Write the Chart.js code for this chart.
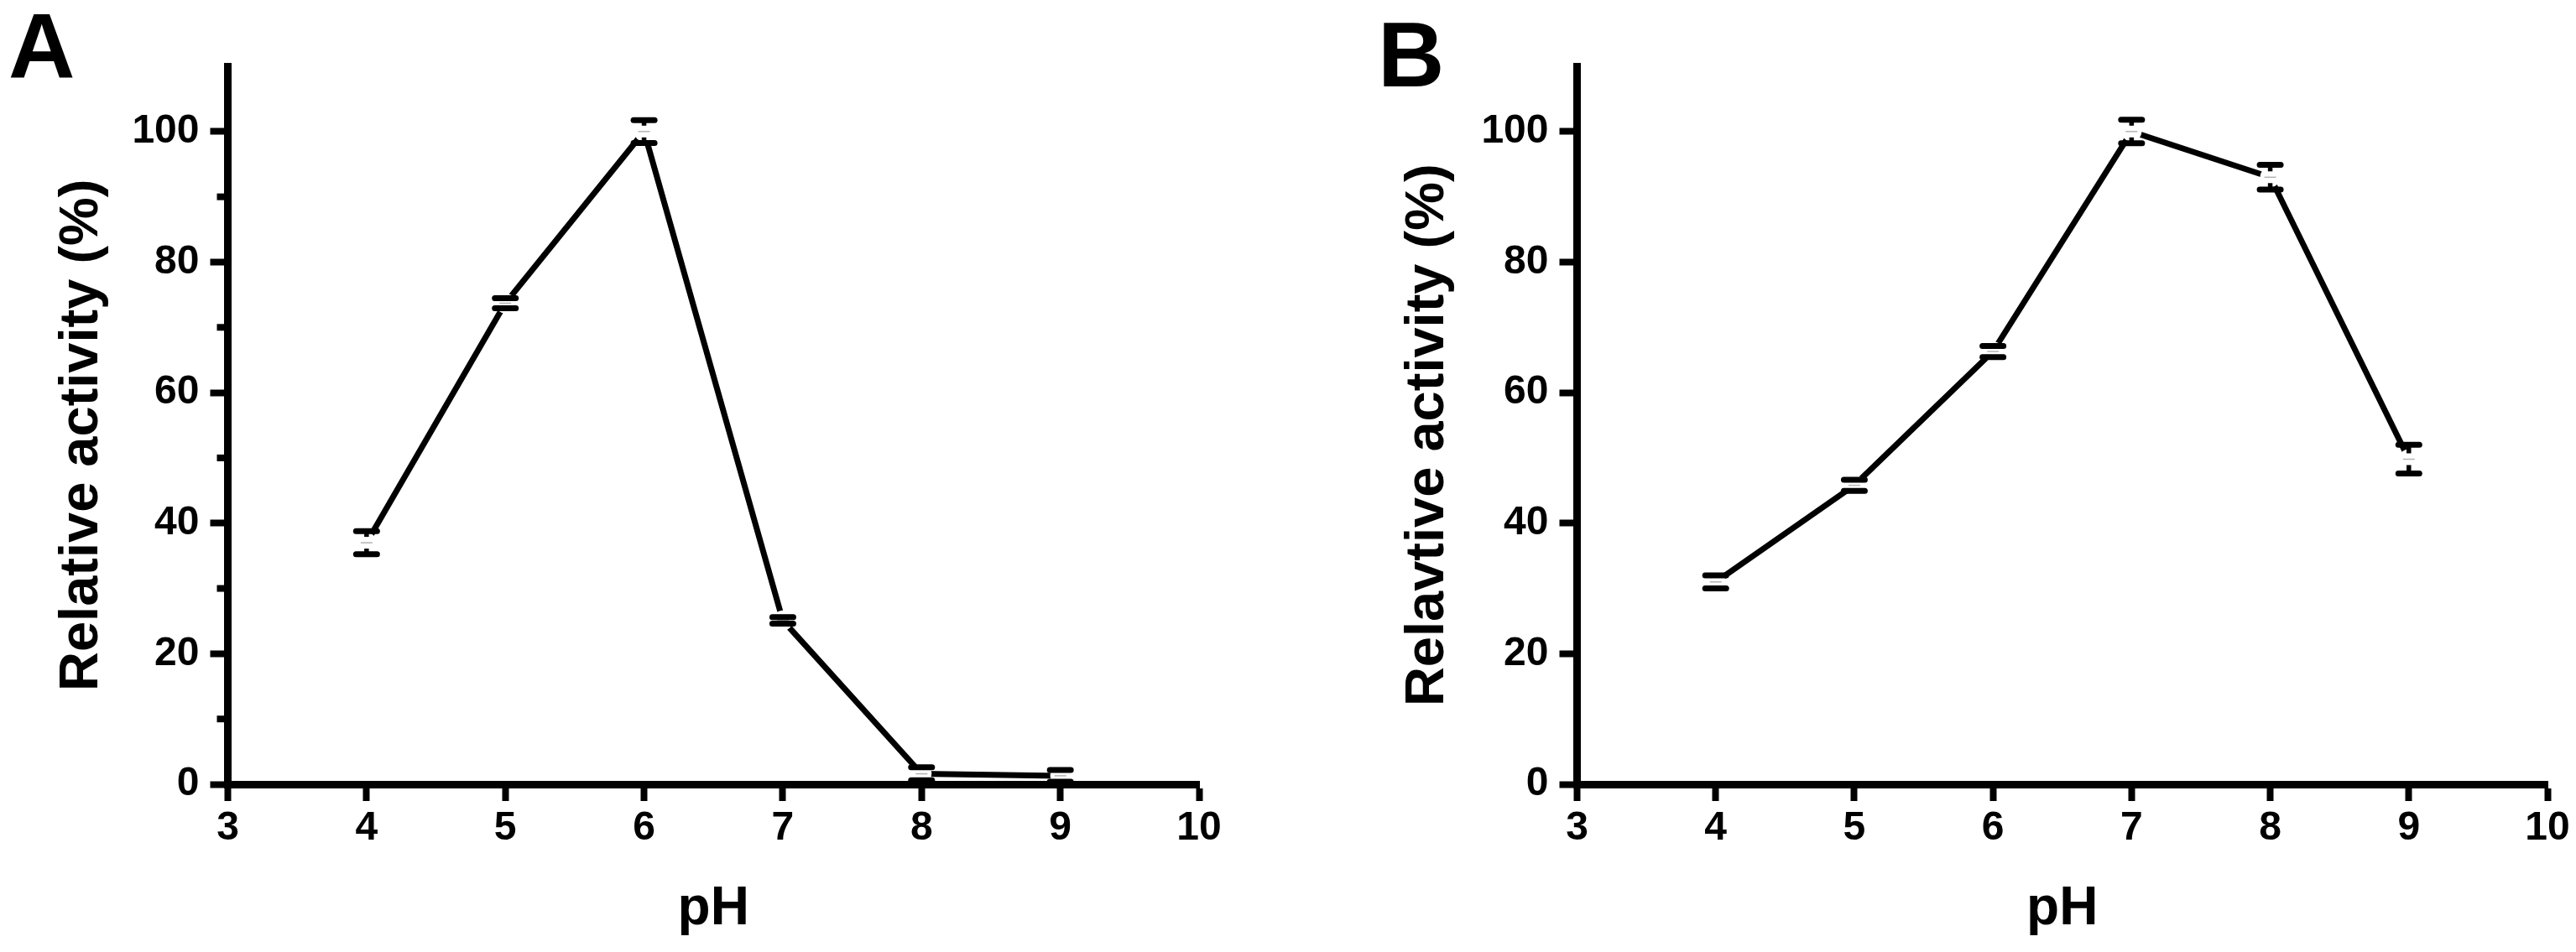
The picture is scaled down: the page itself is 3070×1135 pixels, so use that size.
<!DOCTYPE html>
<html><head><meta charset="utf-8">
<script src="https://cdn.jsdelivr.net/npm/chart.js@4.4.1/dist/chart.umd.min.js"></script>
<style>
html,body{margin:0;padding:0;background:#fff;width:3070px;height:1135px;overflow:hidden}
.panel{position:absolute;top:0;width:1535px;height:1135px}
#wa{left:0}
#wb{left:1535px}
canvas{display:block}
</style></head><body>
<div id="wa" class="panel"><canvas id="ca" width="1535" height="1135"></canvas></div>
<div id="wb" class="panel"><canvas id="cb" width="1535" height="1135"></canvas></div>
<script>
// ---- data ----
const pH = [4, 5, 6, 7, 8, 9];
const activityA = [37.0, 73.7, 100.0, 25.1, 1.6, 1.3];
const errorA = [1.77, 0.77, 1.75, 0.5, 1.0, 0.9];
const activityB = [31.0, 45.8, 66.3, 100.0, 93.0, 49.8];
const errorB = [1.0, 0.85, 0.85, 1.8, 1.9, 2.2];
const xTicks = [3, 4, 5, 6, 7, 8, 9, 10];
const yMajorTicks = [0, 20, 40, 60, 80, 100];
const yMinorTicksA = [10, 30, 50, 70, 90];
const titleA = 'Relative activity (%)';
const titleB = 'Relavtive activity (%)';
const xTitle = 'pH';

const FAMILY = "'Liberation Sans', Arial, Helvetica, sans-serif";

const errorBarPlugin = {
  id: 'errorBars',
  afterDatasetsDraw(chart) {
    const ctx = chart.ctx;
    const yS = chart.scales.y;
    chart.data.datasets.forEach((ds, di) => {
      const meta = chart.getDatasetMeta(di);
      meta.data.forEach((pt, i) => {
        const v = ds.data[i].y, e = ds.errors[i];
        const x = pt.x, yc = pt.y;
        const yt = yS.getPixelForValue(v + e), yb = yS.getPixelForValue(v - e);
        const seg = (x1, y1, x2, y2) => { ctx.beginPath(); ctx.moveTo(x1, y1); ctx.lineTo(x2, y2); ctx.stroke(); };
        ctx.save();
        ctx.strokeStyle = '#000';
        ctx.lineWidth = 5.5; ctx.lineCap = 'butt';
        const gap = 7;
        if (yc - yt > gap) { seg(x, yt, x, yc - gap); seg(x, yc + gap, x, yb); }
        ctx.lineWidth = 7; ctx.lineCap = 'round';
        seg(x - 12.5, yt, x + 12.5, yt);
        seg(x - 12.5, yb, x + 12.5, yb);
        ctx.lineWidth = 1.5; ctx.lineCap = 'butt'; ctx.strokeStyle = 'rgba(0,0,0,0.3)';
        seg(x - 7, yc, x + 7, yc);
        ctx.restore();
      });
    });
  }
};

const minorTickPlugin = {
  id: 'minorTicks',
  afterDraw(chart, args, opts) {
    if (!opts || !opts.values) return;
    const ctx = chart.ctx, yS = chart.scales.y, left = chart.chartArea.left;
    ctx.save();
    ctx.strokeStyle = '#000'; ctx.lineWidth = 8;
    opts.values.forEach(v => {
      const y = yS.getPixelForValue(v);
      ctx.beginPath(); ctx.moveTo(left - 13, y); ctx.lineTo(left, y); ctx.stroke();
    });
    ctx.restore();
  }
};

function makeChart(id, o) {
  return new Chart(document.getElementById(id), {
    type: 'line',
    data: {
      datasets: [{
        data: pH.map((x, i) => ({ x: x, y: o.values[i] })),
        errors: o.errors,
        borderColor: '#000', borderWidth: 7, tension: 0,
        pointRadius: 12, pointHoverRadius: 12,
        pointBackgroundColor: '#fff', pointBorderWidth: 0, pointHoverBorderWidth: 0,
        clip: { left: 20, top: 20, right: 20, bottom: -5 }
      }]
    },
    options: {
      responsive: false, animation: false, devicePixelRatio: 1,
      events: [],
      layout: { padding: { left: o.padLeft, right: o.padRight, top: 0, bottom: 0 } },
      plugins: {
        legend: { display: false },
        tooltip: { enabled: false },
        title: {
          display: true, text: o.letter, align: 'start', color: '#000',
          font: { family: FAMILY, size: 110, weight: 'bold', lineHeight: o.letterLH },
          padding: { top: o.letterPT, bottom: 0 }
        },
        minorTicks: { values: o.minor }
      },
      scales: {
        x: {
          type: 'linear', min: 3, max: 10,
          afterBuildTicks: s => { s.ticks = xTicks.map(v => ({ value: v })); },
          afterFit: s => { s.height = 200; },
          border: { display: true, color: '#000', width: 9 },
          grid: { drawOnChartArea: false, drawTicks: true, tickLength: 20, tickWidth: 8, tickColor: '#000' },
          ticks: { color: '#000', font: { family: FAMILY, size: 48, weight: 'bold' }, padding: 4, maxRotation: 0, autoSkip: false },
          title: { display: true, text: xTitle, color: '#000', font: { family: FAMILY, size: 64, weight: 'bold' }, padding: { top: 0, bottom: 12 } }
        },
        y: {
          type: 'linear', min: 0, max: 110,
          afterBuildTicks: s => { s.ticks = yMajorTicks.map(v => ({ value: v })); },
          afterFit: s => { s.width = o.yWidth; },
          border: { display: true, color: '#000', width: 9 },
          grid: { drawOnChartArea: false, drawTicks: true, tickLength: 21, tickWidth: 8, tickColor: '#000' },
          ticks: { color: '#000', font: { family: FAMILY, size: 48, weight: 'bold' }, padding: 13, autoSkip: false },
          title: { display: true, text: o.yTitle + ' \u200A', color: '#000', font: { family: FAMILY, size: 65, weight: 'bold' }, padding: { top: o.yTitlePT, bottom: 0 } }
        }
      }
    },
    plugins: [errorBarPlugin, minorTickPlugin]
  });
}

makeChart('ca', {
  values: activityA, errors: errorA, letter: 'A', letterLH: 34 / 110, letterPT: 45,
  padLeft: 10, padRight: 106, yWidth: 261.5, yTitle: titleA, yTitlePT: 49, minor: yMinorTicksA
});
makeChart('cb', {
  values: activityB, errors: errorB, letter: 'B', letterLH: 13 / 110, letterPT: 66,
  padLeft: 107, padRight: 34, yWidth: 237.5, yTitle: titleB, yTitlePT: 21, minor: null
});
</script>
</body></html>
